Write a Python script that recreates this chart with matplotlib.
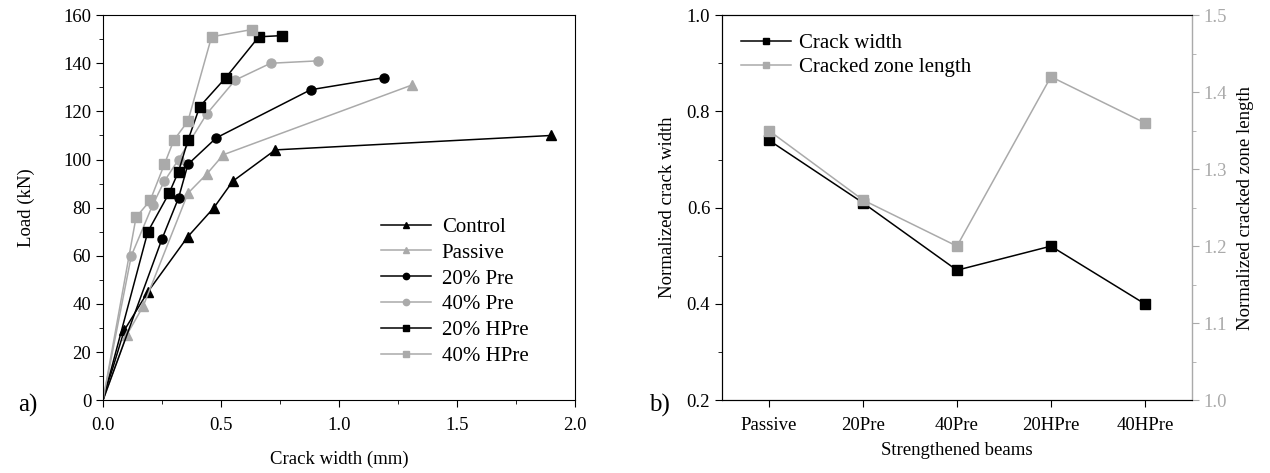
import numpy as np
import matplotlib
matplotlib.use('Agg')
import matplotlib.pyplot as plt
from matplotlib.ticker import MultipleLocator

plt.rcParams['font.family'] = ['Liberation Serif', 'DejaVu Serif']
plt.rcParams['font.size'] = 13.5

gray = '#aaaaaa'

# a) load vs crack width
ctrl_x = [0, 0.09, 0.19, 0.36, 0.47, 0.55, 0.73, 1.90]
ctrl_y = [0, 29, 45, 68, 80, 91, 104, 110]
pas_x = [0, 0.10, 0.17, 0.36, 0.44, 0.51, 1.31]
pas_y = [0, 27, 39, 86, 94, 102, 131]
pre20_x = [0, 0.25, 0.32, 0.36, 0.48, 0.88, 1.19]
pre20_y = [0, 67, 84, 98, 109, 129, 134]
pre40_x = [0, 0.12, 0.21, 0.26, 0.32, 0.44, 0.56, 0.71, 0.91]
pre40_y = [0, 60, 81, 91, 100, 119, 133, 140, 141]
hpre20_x = [0, 0.19, 0.28, 0.32, 0.36, 0.41, 0.52, 0.66, 0.76]
hpre20_y = [0, 70, 86, 95, 108, 122, 134, 151, 151.5]
hpre40_x = [0, 0.14, 0.20, 0.26, 0.30, 0.36, 0.46, 0.63]
hpre40_y = [0, 76, 83, 98, 108, 116, 151, 154]

# b) normalized values
beams = ['Passive', '20Pre', '40Pre', '20HPre', '40HPre']
crack_w = [0.74, 0.61, 0.47, 0.52, 0.40]
zone_len = [1.35, 1.26, 1.20, 1.42, 1.36]

fig = plt.figure(figsize=(12.7, 4.73), dpi=100)
ax1 = fig.add_axes([0.0811, 0.154, 0.3717, 0.814])
ax2 = fig.add_axes([0.5685, 0.154, 0.370, 0.814])

series = [
    (ctrl_x, ctrl_y, 'k', '^', 'Control'),
    (pas_x, pas_y, gray, '^', 'Passive'),
    (pre20_x, pre20_y, 'k', 'o', '20% Pre'),
    (pre40_x, pre40_y, gray, 'o', '40% Pre'),
    (hpre20_x, hpre20_y, 'k', 's', '20% HPre'),
    (hpre40_x, hpre40_y, gray, 's', '40% HPre'),
]
for x, y, c, m, lab in series:
    ax1.plot(x, y, color=c, marker=m, markersize=6.5, linewidth=1.1, label=lab,
             markevery=list(range(1, len(x))))

ax1.set_xlim(0, 2.0)
ax1.set_ylim(0, 160)
ax1.xaxis.set_major_locator(MultipleLocator(0.5))
ax1.xaxis.set_minor_locator(MultipleLocator(0.25))
ax1.yaxis.set_major_locator(MultipleLocator(20))
ax1.yaxis.set_minor_locator(MultipleLocator(10))
ax1.tick_params(which='both', direction='out')
ax1.tick_params(which='major', length=5)
ax1.tick_params(which='minor', length=3)
ax1.tick_params(axis='x', pad=7)
ax1.set_xlabel('Crack width (mm)', labelpad=12)
ax1.set_ylabel('Load (kN)', labelpad=20)
ax1.legend(loc='lower left', bbox_to_anchor=(0.55, 0.04), frameon=False,
           fontsize=15, handlelength=2.4, labelspacing=0.3, handletextpad=0.5,
           markerscale=0.7)

ax2.plot(range(1, 6), crack_w, color='k', marker='s', markersize=6.5,
         linewidth=1.1, label='Crack width')
ax2.set_xlim(0.5, 5.5)
ax2.set_ylim(0.2, 1.0)
ax2.set_xticks(range(1, 6))
ax2.set_xticklabels(beams)
ax2.yaxis.set_major_locator(MultipleLocator(0.2))
ax2.yaxis.set_minor_locator(MultipleLocator(0.1))
ax2.tick_params(which='both', direction='out')
ax2.tick_params(which='major', length=5)
ax2.tick_params(which='minor', length=3)
ax2.tick_params(axis='x', pad=7)
ax2.set_xlabel('Strengthened beams', labelpad=6)
ax2.set_ylabel('Normalized crack width', labelpad=8)

ax3 = ax2.twinx()
ax3.plot(range(1, 6), zone_len, color=gray, marker='s', markersize=6.5,
         linewidth=1.1, label='Cracked zone length')
ax3.set_ylim(1.0, 1.5)
ax3.yaxis.set_major_locator(MultipleLocator(0.1))
ax3.yaxis.set_minor_locator(MultipleLocator(0.05))
ax3.tick_params(which='both', direction='out', colors=gray)
ax3.tick_params(which='major', length=5)
ax3.tick_params(which='minor', length=3)
ax3.spines['right'].set_color(gray)
ax3.set_ylabel('Normalized cracked zone length', color='k', labelpad=7)

h1, l1 = ax2.get_legend_handles_labels()
h2, l2 = ax3.get_legend_handles_labels()
ax2.legend(h1 + h2, l1 + l2, loc='upper left', frameon=False, fontsize=15,
           handlelength=2.4, labelspacing=0.2, handletextpad=0.4,
           markerscale=0.75)

fig.text(0.014, 0.13, 'a)', fontsize=18)
fig.text(0.511, 0.13, 'b)', fontsize=18)

fig.savefig('out.png', dpi=100)
